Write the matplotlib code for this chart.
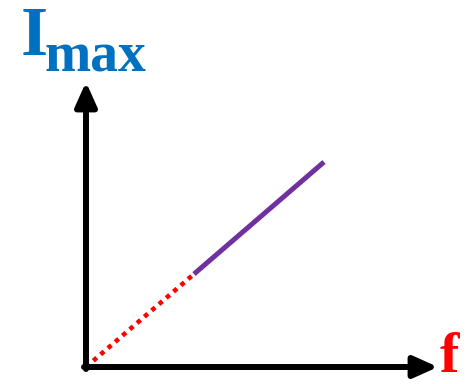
import matplotlib
matplotlib.use("Agg")
import matplotlib.pyplot as plt

# sketch data: origin at (0, 0)
dotted_x = [0, 108]
dotted_y = [0, 93]
solid_x = [108, 238]
solid_y = [93, 205]
x_arrow_end = 352
y_arrow_end = 285

fig = plt.figure(figsize=(4.72, 3.84), dpi=100)
ax = fig.add_axes([0, 0, 1, 1])
ax.set_xlim(-86, 386)
ax.set_ylim(-17, 367)
ax.axis('off')

arrow_kw = dict(arrowstyle='-|>,head_length=1.45,head_width=0.65', lw=4.3,
                color='black', shrinkA=0, shrinkB=0)
ax.annotate('', xy=(x_arrow_end, 0), xytext=(-2, 0), arrowprops=arrow_kw)
ax.annotate('', xy=(0, y_arrow_end), xytext=(0, -2), arrowprops=arrow_kw)

ax.plot(dotted_x, dotted_y, color='#ff0000', lw=3.3, linestyle=(0, (1, 1.1)),
        solid_capstyle='butt', dash_capstyle='butt')
ax.plot(solid_x, solid_y, color='#7030a0', lw=3.6, solid_capstyle='butt')

font = dict(family='Liberation Serif', weight='bold')
ax.text(-65, 312, 'I', color='#0070c0', fontsize=50, ha='left', va='baseline', **font)
ax.text(-42, 296, 'max', color='#0070c0', fontsize=40, ha='left', va='baseline', **font)
ax.text(354, -5, 'f', color='#ff0000', fontsize=42, ha='left', va='baseline', **font)

fig.savefig('out.png', dpi=100)
